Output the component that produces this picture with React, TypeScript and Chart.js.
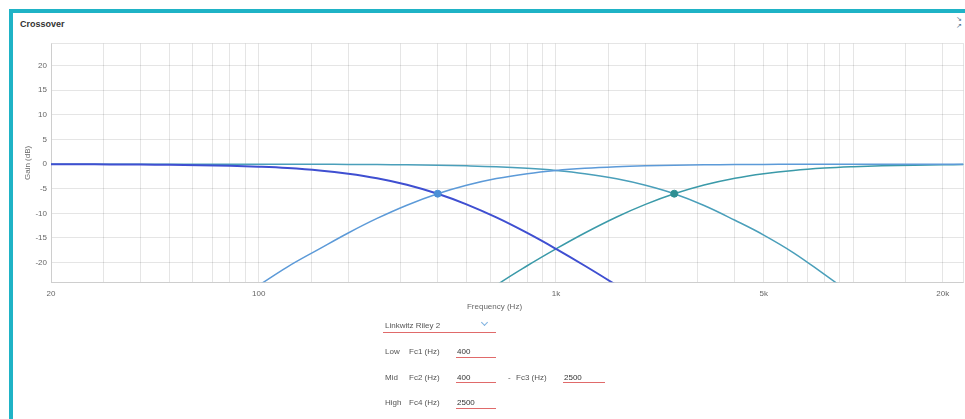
import React, { useEffect, useRef } from "react";
import { Chart, registerables } from "chart.js";

Chart.register(...registerables);

// Sample frequencies (Hz), third-octave spacing
const FREQS = [
  20, 25, 31.5, 40, 50, 63, 80, 100, 125, 160,
  200, 250, 315, 400, 500, 630, 800, 1000, 1250, 1600,
  2000, 2500, 3150, 4000, 5000, 6300, 8000, 10000, 12500, 16000,
  20000, 23500,
];

// Low band: low-pass at Fc1 = 400 Hz (dB)
const LOW_GAIN = [
  0, -0.02, -0.05, -0.09, -0.13, -0.21, -0.34, -0.53, -0.81, -1.29,
  -1.94, -2.86, -4.19, -6.02, -8.17, -10.83, -13.98, -17.21, -20.64, -24.61,
  -28.3, null, null, null, null, null, null, null, null, null,
  null, null,
];

// Mid band, high-pass side at Fc2 = 400 Hz (dB)
const MID_HP_GAIN = [
  null, null, null, null, null, null, -28.3, -24.61, -20.85, -17.21,
  -13.98, -11.03, -8.34, -6.02, -4.3, -2.94, -1.94, -1.29, -0.85, -0.53,
  -0.34, -0.22, -0.14, -0.09, -0.06, -0.03, -0.02, -0.01, 0, 0,
  0, 0,
];

// Mid band, low-pass side at Fc3 = 2500 Hz (dB)
const MID_LP_GAIN = [
  0, 0, 0, 0, 0, 0, 0, -0.01, -0.02, -0.04,
  -0.06, -0.09, -0.14, -0.22, -0.34, -0.53, -0.85, -1.29, -1.94, -2.98,
  -4.3, -6.02, -8.4, -11.4, -14.4, -18.0, -22.4, -26.6, null, null,
  null, null,
];

// High band: high-pass at Fc4 = 2500 Hz (dB)
const HIGH_GAIN = [
  null, null, null, null, null, null, null, null, null, null,
  null, null, null, null, -29.0, -24.6, -20.64, -17.21, -13.98, -10.73,
  -8.17, -6.02, -4.24, -2.86, -1.94, -1.27, -0.81, -0.53, -0.34, -0.21,
  -0.13, -0.1,
];

// Crossover markers
const CROSS_FREQS = [400, 2500];
const CROSS_GAINS = [-6.0, -6.0];

// Labelled frequency ticks
const X_TICKS = [20, 100, 1000, 5000, 20000];
const X_TICK_LABELS = ["20", "100", "1k", "5k", "20k"];

const FONT = "'Liberation Sans', Arial, sans-serif";
const GRID = "rgba(0,0,0,0.1)";
const TICK_COLOR = "#666";
const TEAL = "#1fb3c6";
const UNDERLINE = "#e06a6a";

const toPoints = (gains: (number | null)[]) =>
  FREQS.map((f, i) => ({ x: f, y: gains[i] }));

function CrossoverChart() {
  const ref = useRef<HTMLCanvasElement | null>(null);

  useEffect(() => {
    if (!ref.current) return;
    const line = (data: any, color: string, width: number) => ({
      data,
      borderColor: color,
      backgroundColor: color,
      borderWidth: width,
      pointRadius: 0,
      tension: 0.4,
      fill: false,
      spanGaps: false,
    });
    const chart = new Chart(ref.current, {
      type: "line",
      data: {
        datasets: [
          {
            data: [{ x: CROSS_FREQS[0], y: CROSS_GAINS[0] }],
            showLine: false,
            pointRadius: 3.5,
            pointBackgroundColor: "#4b8fd6",
            pointBorderColor: "#4b8fd6",
          },
          {
            data: [{ x: CROSS_FREQS[1], y: CROSS_GAINS[1] }],
            showLine: false,
            pointRadius: 3.5,
            pointBackgroundColor: "#2e8f93",
            pointBorderColor: "#2e8f93",
          },
          line(toPoints(LOW_GAIN), "#3f4fd1", 2),
          line(toPoints(MID_HP_GAIN), "#5c9ad8", 1.5),
          line(toPoints(MID_LP_GAIN), "#4a9fba", 1.5),
          line(toPoints(HIGH_GAIN), "#3b9aa9", 1.5),
        ] as any,
      },
      options: {
        animation: false,
        responsive: false,
        maintainAspectRatio: false,
        layout: { padding: { left: 8, top: 9.5, right: 0, bottom: 0 } },
        plugins: { legend: { display: false }, tooltip: { enabled: false } },
        scales: {
          x: {
            type: "logarithmic",
            min: 20,
            max: 23500,
            grid: { color: GRID, drawTicks: false },
            border: { color: GRID },
            ticks: {
              autoSkip: false,
              maxRotation: 0,
              padding: 6.5,
              color: TICK_COLOR,
              font: { family: FONT, size: 8 },
              callback: (value: any) => {
                const v = Number(value);
                const i = X_TICKS.findIndex((t) => Math.abs(v - t) / t < 1e-6);
                return i >= 0 ? X_TICK_LABELS[i] : "";
              },
            },
            afterFit: (scale: any) => {
              scale.height = 31.7;
            },
          },
          y: {
            min: -24,
            max: 24.5,
            grid: { color: GRID, drawTicks: false },
            border: { color: GRID },
            ticks: {
              stepSize: 5,
              padding: 4,
              color: TICK_COLOR,
              font: { family: FONT, size: 8 },
              callback: (value: any) =>
                Number(value) % 5 === 0 ? String(value) : "",
            },
            title: {
              display: true,
              text: "Gain (dB)",
              color: TICK_COLOR,
              font: { family: FONT, size: 8 },
              padding: { top: 1, bottom: 0 },
            },
            afterFit: (scale: any) => {
              scale.width = 29;
            },
          },
        },
      },
    } as any);
    return () => chart.destroy();
  }, []);

  return (
    <canvas
      ref={ref}
      width={956}
      height={280}
      style={{ position: "absolute", left: 14, top: 34, width: 956, height: 280 }}
    />
  );
}

// Text placed by its left edge (or centre) and vertical centre
function Txt(props: {
  x: number;
  y: number;
  children: React.ReactNode;
  size?: number;
  color?: string;
  weight?: number | string;
  center?: boolean;
}) {
  const { x, y, children, size = 8, color = "#555", weight = 400, center } = props;
  return (
    <div
      style={{
        position: "absolute",
        left: x,
        top: y - 6,
        height: 12,
        lineHeight: "12px",
        fontSize: size,
        color,
        fontWeight: weight as any,
        whiteSpace: "nowrap",
        transform: center ? "translateX(-50%)" : undefined,
      }}
    >
      {children}
    </div>
  );
}

function Underline(props: { x1: number; x2: number; y: number }) {
  return (
    <div
      style={{
        position: "absolute",
        left: props.x1,
        top: props.y,
        width: props.x2 - props.x1,
        height: 1,
        background: UNDERLINE,
      }}
    />
  );
}

export default function App() {
  return (
    <div
      style={{
        position: "fixed",
        left: 0,
        top: 0,
        width: 965,
        height: 419,
        overflow: "hidden",
        fontFamily: FONT,
        background: "#fff",
      }}
    >
      <div
        style={{
          position: "absolute",
          left: 9,
          top: 9,
          width: 990,
          height: 520,
          borderTop: `4px solid ${TEAL}`,
          borderLeft: `4px solid ${TEAL}`,
          background: "#fff",
          boxSizing: "border-box",
        }}
      />
      <Txt x={20} y={24} size={9} color="#333" weight={700}>
        Crossover
      </Txt>
      <div
        style={{
          position: "absolute",
          left: 956,
          top: 16,
          fontSize: 7,
          lineHeight: "7px",
          color: "#4a6a8a",
          fontFamily: "DejaVu Sans, sans-serif",
          textAlign: "center",
        }}
      >
        ↘<br />↗
      </div>

      <CrossoverChart />

      <Txt x={494.5} y={306.5} color={TICK_COLOR} center>
        Frequency (Hz)
      </Txt>

      <Txt x={385} y={326}>Linkwitz Riley 2</Txt>
      <div
        style={{
          position: "absolute",
          left: 482,
          top: 320,
          width: 4,
          height: 4,
          borderRight: "1px solid #7fb2e0",
          borderBottom: "1px solid #7fb2e0",
          transform: "rotate(45deg)",
        }}
      />
      <Underline x1={383} x2={496} y={332} />

      <Txt x={385} y={352}>Low</Txt>
      <Txt x={409} y={352}>Fc1 (Hz)</Txt>
      <Txt x={457} y={352} color="#333">400</Txt>
      <Underline x1={456} x2={496} y={357} />

      <Txt x={385} y={378}>Mid</Txt>
      <Txt x={409} y={378}>Fc2 (Hz)</Txt>
      <Txt x={457} y={378} color="#333">400</Txt>
      <Underline x1={456} x2={496} y={382} />
      <Txt x={508} y={378}>-</Txt>
      <Txt x={516} y={378}>Fc3 (Hz)</Txt>
      <Txt x={564} y={378} color="#333">2500</Txt>
      <Underline x1={563} x2={605} y={382} />

      <Txt x={385} y={403}>High</Txt>
      <Txt x={409} y={403}>Fc4 (Hz)</Txt>
      <Txt x={457} y={403} color="#333">2500</Txt>
      <Underline x1={456} x2={496} y={408} />
    </div>
  );
}
